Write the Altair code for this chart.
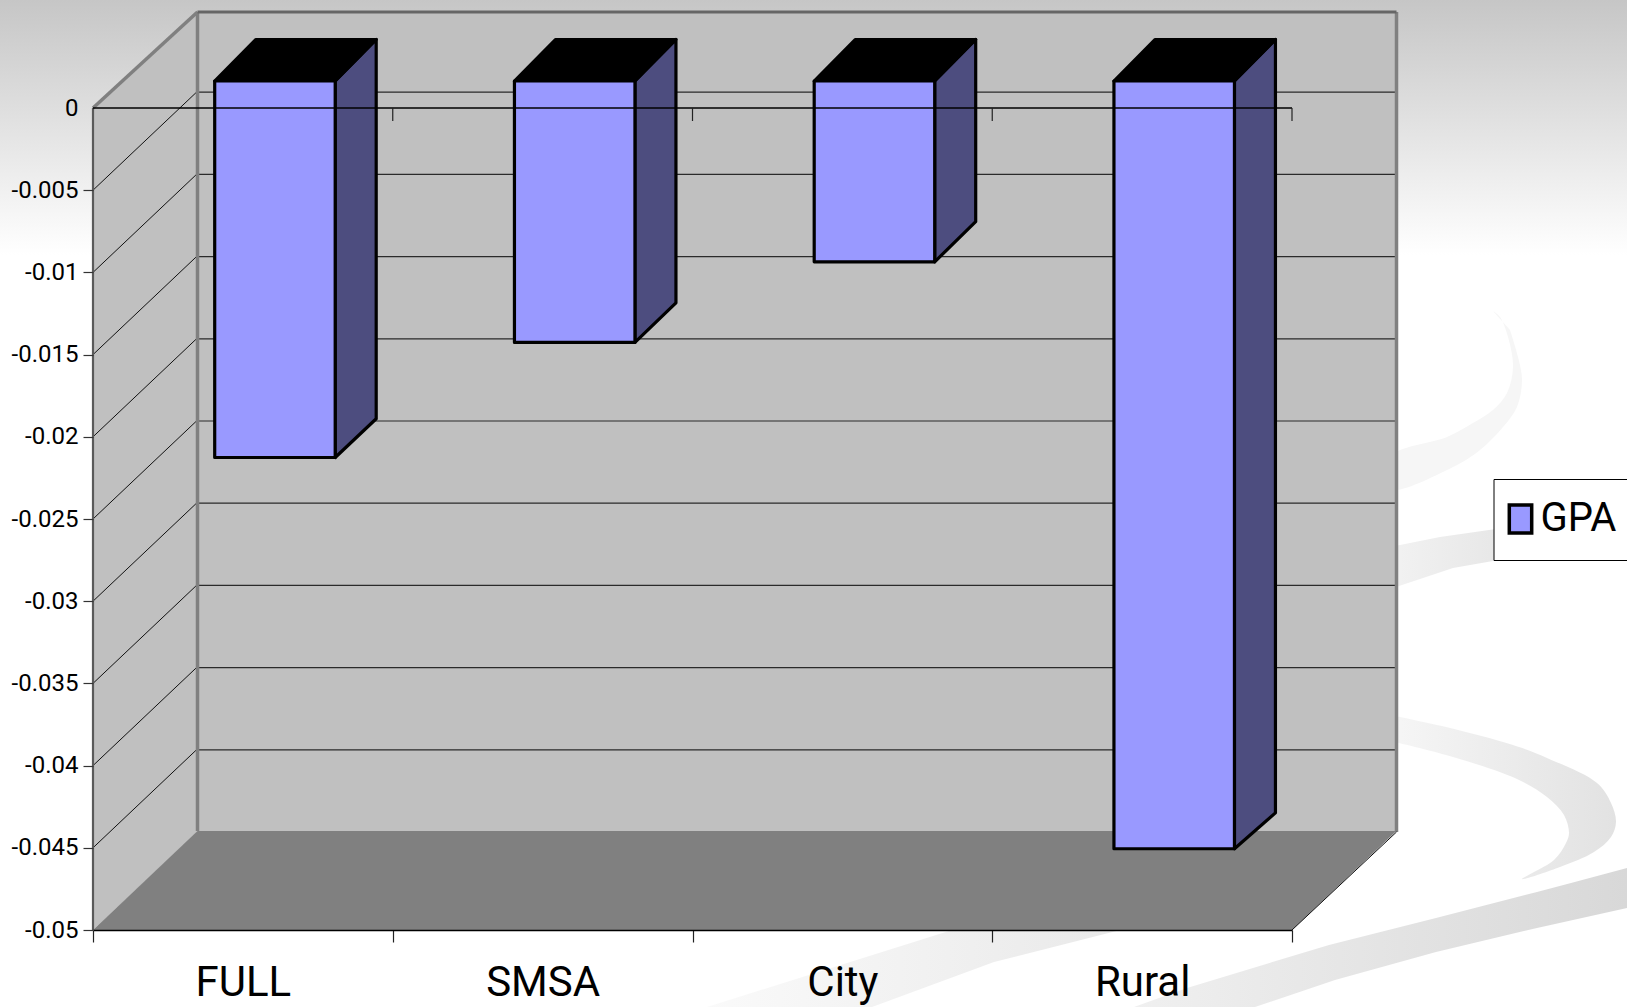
import altair as alt
import pandas as pd

# Survey results: effect on GPA by sample
categories = ["FULL", "SMSA", "City", "Rural"]
gpa_effect = [-0.0229, -0.0159, -0.0110, -0.0467]
y_ticks = [0, -0.005, -0.01, -0.015, -0.02, -0.025, -0.03, -0.035, -0.04, -0.045, -0.05]
series_name = "GPA"

# Plot frame of the front plane, in pixels
PAD_L, PAD_T = 93, 108
PLOT_W, PLOT_H = 1199, 822
PX_PER_CAT = PLOT_W / 4
PX_PER_VAL = PLOT_H / 0.05


def cat_px(px):
    return px / PX_PER_CAT


def val_px(px):
    return px / PX_PER_VAL


def page_x(px):
    return (px - PAD_L) / PX_PER_CAT


def page_y(py):
    return -(py - PAD_T) / PX_PER_VAL


# Depth of the box and of each column
WALL_DX, WALL_DY, WALL_TOP_DY = cat_px(104.5), val_px(98), val_px(96)
BAR_LIFT = val_px(27)
BAR_DX, BAR_DY = cat_px(41), val_px(41.5)
BAR_CONVERGE = 120  # the far edge of a column closes in with its length
BAR_LEFT, BAR_WIDTH = 0.406, 0.402

GRID_COLOR = "#2a2a2a"
WALL_COLOR = "#c0c0c0"
EDGE_COLOR = "#808080"
TEXT_FONT = "Roboto"

x_scale = alt.Scale(domain=[0, 4], nice=False, zero=False)
y_scale = alt.Scale(domain=[-0.05, 0], nice=False, zero=False)


def X(field, **kw):
    return alt.X(field, type="quantitative", scale=x_scale, title=None, **kw)


def Y(field, **kw):
    return alt.Y(field, type="quantitative", scale=y_scale, title=None, **kw)


# Page shading behind everything
shade = (
    alt.Chart(pd.DataFrame({"a": [0]}))
    .mark_rect(
        color=alt.Gradient(
            gradient="linear",
            x1=0, x2=0, y1=0, y2=1,
            stops=[
                alt.GradientStop(color="#c6c6c6", offset=0),
                alt.GradientStop(color="#ffffff", offset=1),
            ],
        )
    )
    .encode(
        x=alt.value(-PAD_L),
        x2=alt.value(1627 - PAD_L),
        y=alt.value(-PAD_T),
        y2=alt.value(255 - PAD_T),
    )
)


# Decorative ribbons of the slide template, traced as page outlines
def ribbon(points, fill, curve="linear"):
    frame = pd.DataFrame(
        {
            "k": range(len(points)),
            "rx": [page_x(p[0]) for p in points],
            "ry": [page_y(p[1]) for p in points],
        }
    )
    return (
        alt.Chart(frame)
        .mark_line(fill=fill, strokeOpacity=0, interpolate=curve)
        .encode(x=X("rx"), y=Y("ry"), order=alt.Order("k:Q"))
    )


def side_fade(start, end):
    return alt.Gradient(
        gradient="linear",
        x1=0, x2=1, y1=0, y2=0,
        stops=[
            alt.GradientStop(color=start, offset=0),
            alt.GradientStop(color=end, offset=1),
        ],
    )


ribbon_upper = [
    (1493, 311), (1500, 317), (1508, 337), (1513, 367), (1507, 393), (1493, 410),
    (1473, 423), (1447, 437), (1390, 457), (1390, 489), (1453, 467), (1480, 450),
    (1503, 427), (1517, 407), (1522, 380), (1518, 357), (1510, 330),
]
ribbon_legend = [
    (1390, 547), (1440, 537), (1510, 527), (1510, 558), (1453, 568), (1390, 589),
]
ribbon_hook = [
    (1390, 715), (1446, 727), (1513, 745), (1547, 758), (1597, 783), (1611, 803),
    (1616, 822), (1611, 837), (1594, 852), (1560, 867), (1522, 879), (1554, 860),
    (1566, 843), (1569, 833), (1564, 815), (1547, 797), (1517, 779), (1446, 755),
    (1390, 741),
]
ribbon_band = [
    (1627, 868), (1571, 883), (1537, 892), (1436, 918), (1329, 945), (1187, 988),
    (1134, 1007), (1255, 1007), (1335, 980), (1436, 952), (1537, 928), (1627, 908),
]
ribbon_lower = [
    (968, 925), (707, 1007), (872, 1007), (994, 962), (1140, 925),
]

ribbons = [
    ribbon(ribbon_upper, "#f6f6f6", "catmull-rom"),
    ribbon(ribbon_legend, side_fade("#f2f2f2", "#e6e6e6")),
    ribbon(ribbon_hook, side_fade("#f6f6f6", "#e2e2e2"), "catmull-rom"),
    ribbon(ribbon_band, side_fade("#f0f0f0", "#d8d8d8")),
    ribbon(ribbon_lower, side_fade("#fafafa", "#e8e8e8")),
]

# Back wall carries the real axes
back_wall = pd.DataFrame(
    {"x0": [WALL_DX], "x1": [4 + WALL_DX], "y0": [WALL_TOP_DY], "y1": [-0.05 + WALL_DY]}
)
tick_positions = [0, 0.5, 1, 1.5, 2, 2.5, 3, 3.5, 4]
name_lookup = "[" + ",".join(f"'{c}'" for c in categories) + "]"
wall_layer = (
    alt.Chart(back_wall)
    .mark_rect(fill=WALL_COLOR)
    .encode(
        x=X(
            "x0",
            axis=alt.Axis(
                orient="bottom",
                values=tick_positions,
                labelExpr=f"datum.value % 1 == 0.5 ? {name_lookup}[floor(datum.value)] : ''",
                labelFont=TEXT_FONT,
                labelFontSize=42,
                labelColor="#000000",
                labelPadding=20,
                labelOverlap=False,
                labelFlush=False,
                labelBaseline="top",
                grid=False,
                domainColor="#000000",
                domainWidth=1.5,
                tickColor="#222222",
                tickWidth=1.2,
                tickSize=12,
                tickOpacity={"condition": {"test": "datum.value % 1 == 0.5", "value": 0}, "value": 1},
                zindex=1,
            ),
        ),
        x2="x1:Q",
        y=Y(
            "y0",
            axis=alt.Axis(
                orient="left",
                values=y_ticks,
                labelExpr="toString(datum.value)",
                labelFont=TEXT_FONT,
                labelFontSize=24,
                labelColor="#000000",
                labelPadding=5,
                labelOverlap=False,
                labelFlush=False,
                grid=False,
                domain=False,
                tickColor="#333333",
                tickWidth=1.2,
                tickSize=10,
                tickOpacity={"condition": {"test": "datum.value == 0", "value": 0}, "value": 1},
                zindex=1,
            ),
        ),
        y2="y1:Q",
    )
)

side_wall = pd.DataFrame(
    {"x": [0, WALL_DX], "top": [0, WALL_TOP_DY], "bottom": [-0.05, -0.05 + WALL_DY]}
)
side_layer = (
    alt.Chart(side_wall)
    .mark_area(fill=WALL_COLOR, interpolate="linear")
    .encode(x=X("x"), y=Y("top"), y2="bottom:Q")
)

floor = pd.DataFrame(
    {
        "y": [-0.05, -0.05 + WALL_DY + val_px(1)],
        "x0": [0, WALL_DX],
        "x1": [4, 4 + WALL_DX],
    }
)
floor_layer = (
    alt.Chart(floor)
    .mark_area(orient="horizontal", fill=EDGE_COLOR, interpolate="linear")
    .encode(y=Y("y"), x=X("x0"), x2="x1:Q")
)

# Grid lines run along the side wall and across the back wall
grid_values = [t for t in y_ticks if t not in (0, -0.05)]
grid_side = pd.DataFrame(
    {
        "x0": [0.0] * len(grid_values),
        "x1": [WALL_DX - cat_px(1)] * len(grid_values),
        "y0": grid_values,
        "y1": [v + WALL_DY for v in grid_values],
    }
)
grid_back = pd.DataFrame(
    {
        "x0": [WALL_DX + cat_px(1.5)] * len(grid_values),
        "x1": [4 + WALL_DX - cat_px(1.5)] * len(grid_values),
        "y0": [v + WALL_DY for v in grid_values],
        "y1": [v + WALL_DY for v in grid_values],
    }
)


def segments(frame, color, width):
    return (
        alt.Chart(frame)
        .mark_rule(color=color, strokeWidth=width)
        .encode(x=X("x0"), x2="x1:Q", y=Y("y0"), y2="y1:Q")
    )


grid_layers = [segments(grid_side, "#111111", 1), segments(grid_back, GRID_COLOR, 1.2)]

# Box edges
edges_gray = pd.DataFrame(
    {
        "x0": [0, WALL_DX, 4 + WALL_DX],
        "x1": [WALL_DX, WALL_DX, 4 + WALL_DX],
        "y0": [0, WALL_TOP_DY, WALL_TOP_DY],
        "y1": [WALL_TOP_DY, -0.05 + WALL_DY + val_px(1), -0.05 + WALL_DY],
    }
)
edge_top = pd.DataFrame(
    {"x0": [WALL_DX], "x1": [4 + WALL_DX], "y0": [WALL_TOP_DY], "y1": [WALL_TOP_DY]}
)
edge_left = pd.DataFrame({"x0": [0], "x1": [0], "y0": [0], "y1": [-0.05]})
edge_floor = pd.DataFrame(
    {"x0": [4], "x1": [4 + WALL_DX], "y0": [-0.05], "y1": [-0.05 + WALL_DY]}
)
edge_layers = [
    segments(edges_gray, EDGE_COLOR, 3.5),
    segments(edge_top, "#666666", 3),
    segments(edge_left, "#5a5a5a", 2.2),
    segments(edge_floor, "#111111", 1),
]

# Columns: side face, top face, then the front face that feeds the legend
n = len(categories)
bar_top = BAR_LIFT
fronts = pd.DataFrame(
    {
        "name": categories,
        "series": [series_name] * n,
        "x0": [i + BAR_LEFT for i in range(n)],
        "x1": [i + BAR_LEFT + BAR_WIDTH for i in range(n)],
        "y0": [bar_top] * n,
        "y1": [bar_top + v for v in gpa_effect],
    }
)

side_rows, top_rows = [], []
for i, (cat, v) in enumerate(zip(categories, gpa_effect)):
    right = i + BAR_LEFT + BAR_WIDTH
    left = i + BAR_LEFT
    far_drop = val_px(41.5 + BAR_CONVERGE * v)
    side_rows.append({"bar": cat, "x": right, "top": bar_top, "bottom": bar_top + v})
    side_rows.append(
        {"bar": cat, "x": right + BAR_DX, "top": bar_top + BAR_DY, "bottom": bar_top + v + far_drop}
    )
    top_rows.append({"bar": cat, "y": bar_top, "x0": left, "x1": right})
    top_rows.append({"bar": cat, "y": bar_top + BAR_DY, "x0": left + BAR_DX, "x1": right + BAR_DX})

bar_sides = (
    alt.Chart(pd.DataFrame(side_rows))
    .mark_area(fill="#4d4d7f", stroke="#000000", strokeWidth=3.2, strokeJoin="round", interpolate="linear")
    .encode(x=X("x"), y=Y("top"), y2="bottom:Q", detail="bar:N")
)
bar_tops = (
    alt.Chart(pd.DataFrame(top_rows))
    .mark_area(
        orient="horizontal", fill="#000000", stroke="#000000", strokeWidth=3.2,
        strokeJoin="round", interpolate="linear",
    )
    .encode(y=Y("y"), x=X("x0"), x2="x1:Q", detail="bar:N")
)
bar_fronts = (
    alt.Chart(fronts)
    .mark_rect(stroke="#000000", strokeWidth=3.2, strokeJoin="round")
    .encode(
        x=X("x0"),
        x2="x1:Q",
        y=Y("y0"),
        y2="y1:Q",
        color=alt.Color(
            "series:N",
            scale=alt.Scale(domain=[series_name], range=["#9999ff"]),
            legend=alt.Legend(
                title=None,
                orient="none",
                legendX=1493.5 - PAD_L,
                legendY=479 - PAD_T,
                fillColor="#ffffff",
                strokeColor="#000000",
                padding=20,
                symbolType="M-0.8,-1H0.8V1H-0.8Z",
                symbolSize=784,
                symbolOffset=-13,
                symbolStrokeColor="#000000",
                symbolStrokeWidth=3.5,
                symbolOpacity=1,
                labelFont=TEXT_FONT,
                labelFontSize=40,
                labelColor="#000000",
                labelOffset=0,
                labelLimit=400,
                rowPadding=0,
            ),
        ),
    )
)

# Front-plane zero line passes over the columns
zero_line = pd.DataFrame({"x0": [0], "x1": [4], "y0": [0], "y1": [0]})
zero_ticks = pd.DataFrame(
    {
        "x0": [1, 2, 3, 4],
        "x1": [1, 2, 3, 4],
        "y0": [0] * 4,
        "y1": [-val_px(13)] * 4,
    }
)

chart = (
    alt.layer(
        shade,
        *ribbons,
        wall_layer,
        side_layer,
        floor_layer,
        *grid_layers,
        *edge_layers,
        bar_sides,
        bar_tops,
        bar_fronts,
        segments(zero_line, "#000000", 1.4),
        segments(zero_ticks, "#222222", 1.2),
    )
    .properties(
        width=PLOT_W,
        height=PLOT_H,
        autosize=alt.AutoSizeParams(type="none"),
        padding={"left": PAD_L, "top": PAD_T, "right": 1627 - PAD_L - PLOT_W, "bottom": 1007 - PAD_T - PLOT_H},
        background="#ffffff",
    )
    .configure_view(stroke=None)
)

chart.save("out.html", embed_options={"renderer": "svg", "actions": False})
